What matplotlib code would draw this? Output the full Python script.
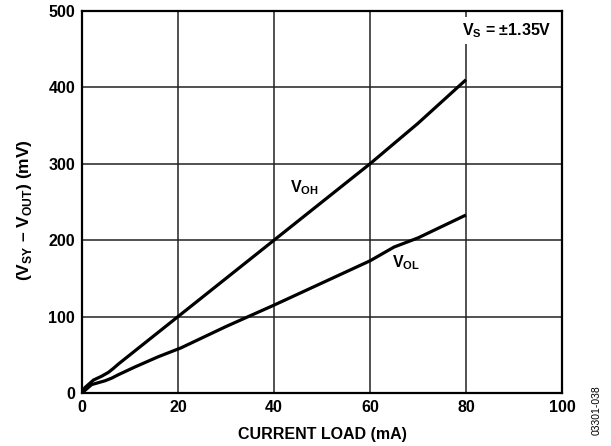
import matplotlib
matplotlib.use("Agg")
import matplotlib.pyplot as plt

plt.rcParams['font.family'] = ['Liberation Sans', 'DejaVu Sans']
plt.rcParams['mathtext.fontset'] = 'custom'
plt.rcParams['mathtext.rm'] = 'Liberation Sans'
plt.rcParams['mathtext.bf'] = 'Liberation Sans:weight=bold'

voh_x = [0, 0.6, 2.4, 4.1, 5.5, 6.5, 7.6, 9.6, 12.4, 15.2, 18, 20, 30, 40, 50, 60, 70, 80]
voh_y = [0, 7, 17, 22, 27, 32, 38, 48, 62, 76, 90, 100, 150, 200, 250, 300, 353, 410]
vol_x = [0, 2, 4.8, 6.2, 7.6, 11, 15.9, 20.6, 30, 40, 50, 60, 65, 70, 80]
vol_y = [0, 11, 16, 19.5, 24, 34, 47.5, 59, 87, 115, 144, 173, 191, 203, 233]
x_ticks = [0, 20, 40, 60, 80, 100]
y_ticks = [0, 100, 200, 300, 400, 500]

fig = plt.figure(figsize=(6.11, 4.46), dpi=100)
ax = fig.add_axes([82/611, 1-393/446, 480/611, 382/446])
ax.set_xlim(0, 100)
ax.set_ylim(0, 500)
ax.set_xticks(x_ticks)
ax.set_yticks(y_ticks)
ax.set_xticklabels([str(t) for t in x_ticks], fontweight='bold', fontsize=11.5)
ax.set_yticklabels([str(t) for t in y_ticks], fontweight='bold', fontsize=11.5)
ax.tick_params(length=0, pad=5)
ax.grid(True, color='#222222', linewidth=1.1)
ax.set_axisbelow(True)
for s in ax.spines.values():
    s.set_linewidth(1.6)

ax.plot(voh_x, voh_y, color='black', linewidth=2.3, solid_capstyle='butt', zorder=3)
ax.plot(vol_x, vol_y, color='black', linewidth=2.3, solid_capstyle='butt', zorder=3)

ax.text(43.3, 269, r'V$_{\mathbf{OH}}$', fontsize=11.5, fontweight='bold', va='center', ha='left', zorder=4)
ax.text(64.5, 170, r'V$_{\mathbf{OL}}$', fontsize=11.5, fontweight='bold', va='center', ha='left', zorder=4)
ax.text(79.2, 474, r'V$_{\mathbf{S}}$ = ±1.35V', fontsize=11.5, fontweight='bold', va='center', ha='left', zorder=4,
        bbox=dict(facecolor='white', edgecolor='none', pad=3))

ax.set_xlabel('CURRENT LOAD (mA)', fontsize=11.5, fontweight='bold', labelpad=9)
fig.text(25/611, 1-210/446, r'(V$_{\mathbf{SY}}$ – V$_{\mathbf{OUT}}$) (mV)', fontsize=12.5, fontweight='bold',
         rotation=90, ha='center', va='center')

fig.text(597/611, 1-410/446, '03301-038', rotation=90, fontsize=7.5, ha='center', va='center')

fig.savefig('out.png', dpi=100)
